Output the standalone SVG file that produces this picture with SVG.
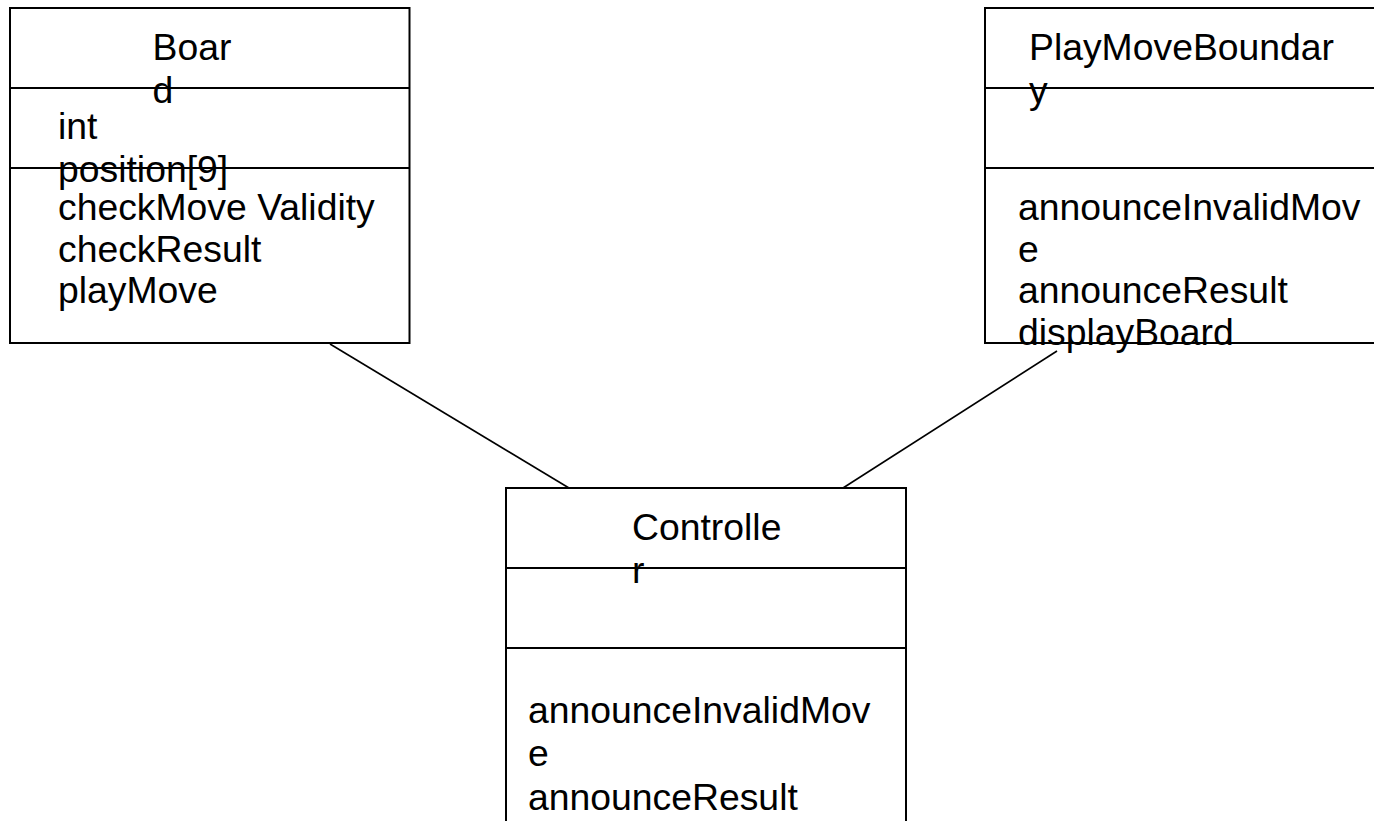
<svg xmlns="http://www.w3.org/2000/svg" width="1374" height="821" viewBox="0 0 1374 821">
  <style>
    .box { fill: #ffffff; stroke: #000000; stroke-width: 2; }
    .sep { stroke: #000000; stroke-width: 2; }
    .link { stroke: #000000; stroke-width: 1.6; fill: none; }
    .lbl { font-family: "Liberation Sans", Arial, sans-serif; font-size: 37.33px; fill: #000000; }
  </style>
  <rect width="1374" height="821" fill="#ffffff"/>

  <!-- associations -->
  <g id="connectors">
    <line class="link" x1="330" y1="344" x2="569" y2="488"/>
    <line class="link" x1="1057" y1="351" x2="843" y2="488"/>
  </g>

  <!-- class: Board -->
  <g id="board">
    <rect class="box" x="10" y="8" width="399.5" height="335"/>
    <line class="sep" x1="10" y1="88" x2="409.5" y2="88"/>
    <line class="sep" x1="10" y1="168" x2="409.5" y2="168"/>
    <text class="lbl" x="152.5" y="59.5">Boar</text>
    <text class="lbl" x="152.5" y="102.5">d</text>
    <text class="lbl" x="58" y="139">int</text>
    <text class="lbl" x="58" y="181.5">position[9]</text>
    <text class="lbl" x="58" y="220">checkMove Validity</text>
    <text class="lbl" x="58" y="261.5">checkResult</text>
    <text class="lbl" x="58" y="303">playMove</text>
  </g>

  <!-- class: PlayMoveBoundary -->
  <g id="playmoveboundary">
    <rect class="box" x="985" y="8" width="400" height="335"/>
    <line class="sep" x1="985" y1="88" x2="1385" y2="88"/>
    <line class="sep" x1="985" y1="168" x2="1385" y2="168"/>
    <text class="lbl" x="1029" y="60">PlayMoveBoundar</text>
    <text class="lbl" x="1029" y="102.5">y</text>
    <text class="lbl" x="1018" y="220">announceInvalidMov</text>
    <text class="lbl" x="1018" y="261.5">e</text>
    <text class="lbl" x="1018" y="303">announceResult</text>
    <text class="lbl" x="1018" y="345">displayBoard</text>
  </g>

  <!-- class: Controller -->
  <g id="controller">
    <rect class="box" x="506" y="488" width="400" height="335"/>
    <line class="sep" x1="506" y1="568" x2="906" y2="568"/>
    <line class="sep" x1="506" y1="648" x2="906" y2="648"/>
    <text class="lbl" x="632" y="540">Controlle</text>
    <text class="lbl" x="632" y="583">r</text>
    <text class="lbl" x="528" y="722.5">announceInvalidMov</text>
    <text class="lbl" x="528" y="766">e</text>
    <text class="lbl" x="528" y="809.5">announceResult</text>
  </g>
</svg>
